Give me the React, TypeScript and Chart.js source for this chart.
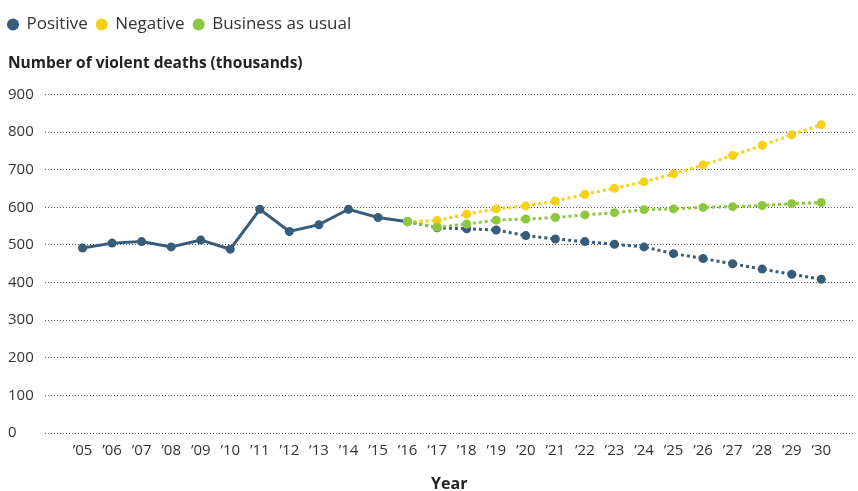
import React, { useEffect, useRef } from "react";
import { Chart, registerables } from "chart.js";

Chart.register(...registerables);

const years = [2005, 2006, 2007, 2008, 2009, 2010, 2011, 2012, 2013, 2014, 2015, 2016, 2017, 2018, 2019, 2020, 2021, 2022, 2023, 2024, 2025, 2026, 2027, 2028, 2029, 2030];
const historicalYears = years.slice(0, 12);
const projectionYears = years.slice(11);

const historical = [492, 505, 509, 495, 513, 489, 595, 536, 554, 595, 573, 562];
const positive = [562, 546, 543, 540, 525, 516, 509, 502, 495, 477, 464, 450, 436, 422, 409];
const negative = [562, 565, 582, 596, 604, 617, 635, 651, 668, 689, 713, 738, 765, 793, 820];
const businessAsUsual = [562, 547, 556, 566, 569, 573, 580, 586, 594, 596, 600, 602, 605, 610, 613];

const legendNames = ["Positive", "Negative", "Business as usual"];
const colors = ["#375d7a", "#f7d117", "#8dc63f"];
const yTitle = "Number of violent deaths (thousands)";
const xTitle = "Year";

const FONT = "'Open Sans', sans-serif";

const toPoints = (xs: number[], ys: number[]) => ys.map((v, i) => ({ x: xs[i], y: v }));

const shiftLegend = {
  id: "shiftLegend",
  afterLayout(chart: any) {
    const lg = chart.legend;
    if (lg) {
      lg.left -= 9;
      lg.right -= 9;
    }
  },
};

export default function App() {
  const ref = useRef<HTMLCanvasElement | null>(null);

  useEffect(() => {
    if (!ref.current) return;
    const dotted = (label: string, data: number[], color: string, order: number) => ({
      label,
      data: toPoints(projectionYears, data),
      borderColor: color,
      backgroundColor: color,
      borderWidth: 3,
      borderDash: [3, 3],
      pointRadius: 4.5,
      pointBorderWidth: 0,
      pointBackgroundColor: color,
      tension: 0,
      order,
    });
    const chart = new Chart(ref.current, {
      type: "line",
      data: {
        datasets: [
          {
            label: legendNames[0],
            data: toPoints(historicalYears, historical),
            borderColor: colors[0],
            backgroundColor: colors[0],
            borderWidth: 3,
            pointRadius: 4.5,
            pointBorderWidth: 0,
            pointBackgroundColor: colors[0],
            tension: 0,
            order: 3,
          },
          dotted(legendNames[0] + " projection", positive, colors[0], 2),
          dotted(legendNames[1], negative, colors[1], 1),
          dotted(legendNames[2], businessAsUsual, colors[2], 0),
        ],
      },
      options: {
        animation: false,
        responsive: true,
        maintainAspectRatio: false,
        events: [],
        layout: { padding: { left: 8, right: 2, top: 7, bottom: 0 } },
        plugins: {
          tooltip: { enabled: false },
          legend: {
            display: true,
            position: "top",
            align: "start",
            labels: {
              usePointStyle: true,
              boxWidth: 10,
              boxHeight: 8.5,
              padding: 9,
              color: "#333",
              font: { size: 17, family: FONT },
              generateLabels: () =>
                legendNames.map((name, i) => ({
                  text: name,
                  fillStyle: colors[i],
                  strokeStyle: colors[i],
                  lineWidth: 0,
                  pointStyle: "circle",
                  hidden: false,
                  fontColor: "#333",
                })),
            },
          },
          title: {
            display: true,
            text: yTitle,
            align: "start",
            position: "top",
            weight: 500,
            color: "#222",
            font: { size: 15.5, weight: "bold", family: FONT },
            padding: { top: 11, bottom: 22 },
          } as any,
        },
        scales: {
          x: {
            type: "linear",
            min: 2003.73,
            max: 2031.09,
            afterBuildTicks: (s: any) => {
              s.ticks = years.map((v) => ({ value: v }));
            },
            afterFit: (s: any) => {
              s.height = 58;
            },
            ticks: {
              autoSkip: false,
              maxRotation: 0,
              padding: 9,
              color: "#333",
              font: { size: 15, family: FONT },
              callback: (v: any) => "\u2019" + String(v).slice(2),
            },
            grid: { display: false, drawTicks: false },
            border: { display: false },
            title: {
              display: true,
              text: xTitle,
              color: "#222",
              font: { size: 16, weight: "bold", family: FONT },
              padding: { top: 0, bottom: -3 },
            },
          },
          y: {
            min: 0,
            max: 900,
            afterFit: (s: any) => {
              s.width = 37;
            },
            ticks: {
              stepSize: 100,
              crossAlign: "far",
              padding: 0,
              color: "#333",
              font: { size: 15, family: FONT },
            },
            grid: { color: "#555", lineWidth: 1, drawTicks: false },
            border: { display: false, dash: [1, 2] },
          },
        },
      } as any,
      plugins: [shiftLegend],
    });
    return () => chart.destroy();
  }, []);

  return (
    <div style={{ position: "absolute", left: 0, top: 0, width: 858, height: 491 }}>
      <canvas ref={ref} />
    </div>
  );
}
